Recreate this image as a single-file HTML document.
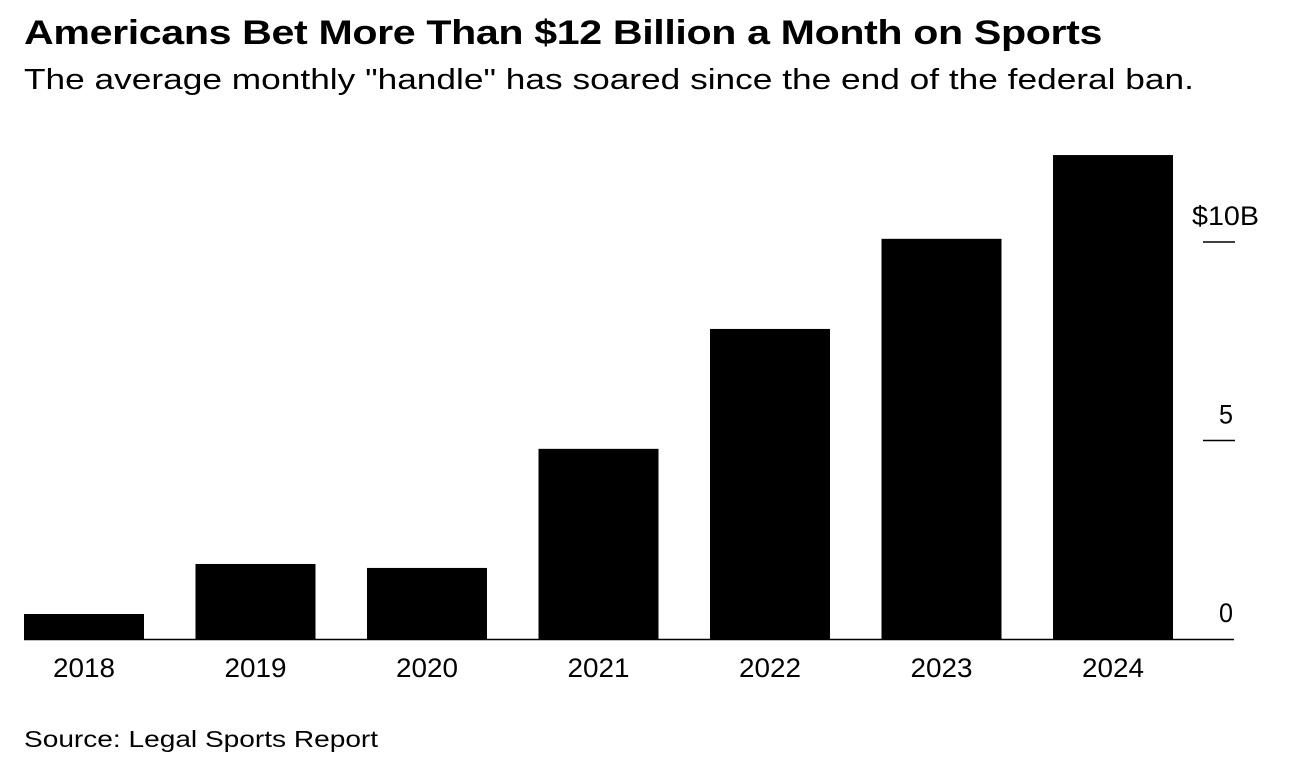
<!DOCTYPE html>
<html><head><meta charset="utf-8"><style>
body{margin:0;background:#fff;width:1292px;height:766px;overflow:hidden;font-family:"Liberation Sans",Arial,sans-serif;color:#000}
#title,#sub,#src{position:absolute;left:24px;white-space:nowrap;transform-origin:0 0}
#title{top:14px;font-size:34px;font-weight:bold;letter-spacing:-0.3px;transform:scaleX(1.21)}
#sub{top:64px;font-size:29px;transform:scaleX(1.216)}
#src{top:726px;font-size:23px;transform:scaleX(1.22)}
svg{position:absolute;left:0;top:0}
</style></head><body>
<div id="title">Americans Bet More Than $12 Billion a Month on Sports</div>
<div id="sub">The average monthly "handle" has soared since the end of the federal ban.</div>
<svg id="chart" width="1292" height="766"></svg>
<div id="src">Source: Legal Sports Report</div>
<script>
const categories=["2018","2019","2020","2021","2022","2023","2024"];
const values=[0.63,1.89,1.79,4.79,7.81,10.08,12.19];
const ticks=[0,5,10];
const tickLabels=["0","5","$10B"];
const NS="http://www.w3.org/2000/svg";
const svg=document.getElementById('chart');
const y0=639,pxPer=39.7,x0=24,step=171.5,bw=120;
const y=v=>y0-v*pxPer;
const x=i=>x0+i*step;
function mk(t,a){const e=document.createElementNS(NS,t);for(const k in a)e.setAttribute(k,a[k]);svg.appendChild(e);return e;}
values.forEach((v,i)=>{
 const r=mk('rect',{x:x(i),y:y(v),width:bw,height:y0-y(v),fill:'#000'});
 
 
 const t=mk('text',{x:x(i)+bw/2,y:677,'text-anchor':'middle','font-size':27,'font-family':'Liberation Sans, Arial, sans-serif',textLength:62,lengthAdjust:'spacingAndGlyphs'});
 t.textContent=categories[i];
 
 
});
ticks.forEach((v,i)=>{
 if(v!==0){const l=mk('line',{x1:1203,x2:1235,y1:y(v),y2:y(v),stroke:'#000','stroke-width':1.5});
 
 }
 const lab=tickLabels[i];
 const isMain=lab.startsWith('$');
 const t=mk('text',{x:isMain?1192:1219,y:y(v)-17,'text-anchor':'start','font-size':27,'font-family':'Liberation Sans, Arial, sans-serif',textLength:isMain?67:14,lengthAdjust:'spacingAndGlyphs'});
 t.textContent=lab;
 
 
});
const b=mk('line',{x1:24,x2:1234,y1:y0+0.5,y2:y0+0.5,stroke:'#000','stroke-width':1.5});


</script>
</body></html>
